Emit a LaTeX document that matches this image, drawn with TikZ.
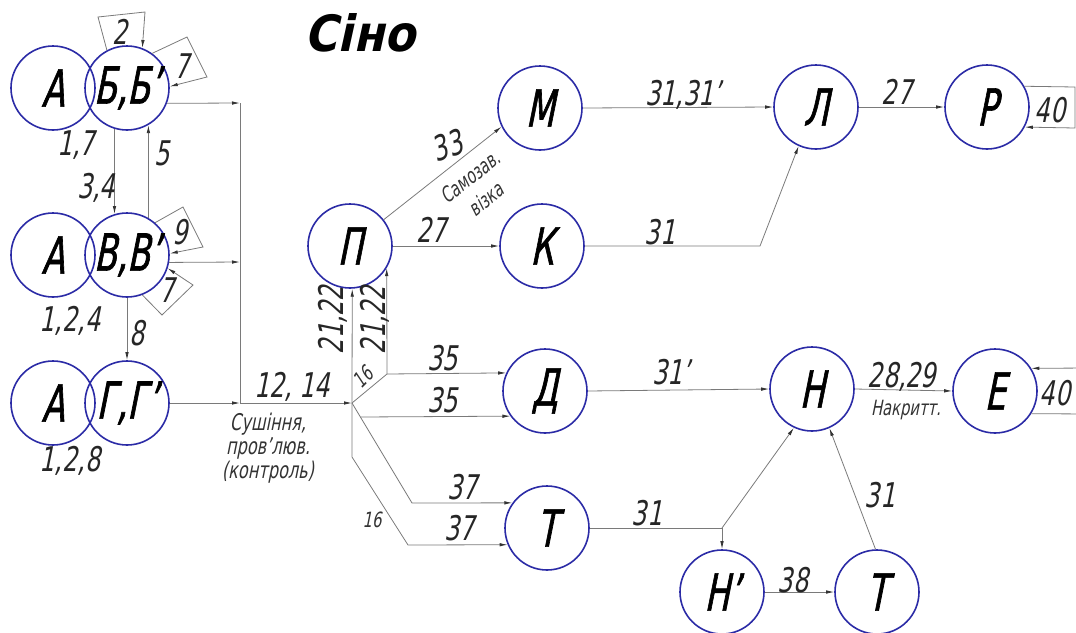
\documentclass[tikz,border=0pt]{standalone}
\usepackage{fontspec}
\usetikzlibrary{arrows.meta}
\newfontfamily\gost{DejaVu Sans Condensed}[FakeSlant=0.2,FakeStretch=0.78]
\newfontfamily\gostnode{DejaVu Sans Condensed}[FakeSlant=0.2,FakeStretch=0.72,FakeBold=1.2]
\newfontfamily\gosttitle{DejaVu Sans Condensed Bold}[FakeSlant=0.22]
\definecolor{circ}{HTML}{2B2BA6}
\definecolor{ln}{HTML}{7A7A7A}
\begin{document}
\begin{tikzpicture}[x=1pt,y=-1pt,
  st/.style={circle,draw=circ,line width=1.6pt,minimum size=84pt,inner sep=0pt,
     font=\gostnode\fontsize{51}{51}\selectfont},
  con/.style={draw=ln,line width=0.8pt},
  arr/.style={con,-{Latex[length=8pt,width=3.5pt,color=black!80]}},
  lab/.style={font=\gost\fontsize{34}{34}\selectfont,text=black!85,inner sep=0pt},
  sm/.style={font=\gost\fontsize{23}{24}\selectfont,text=black!80,align=center,inner sep=0pt},
  tiny/.style={font=\gost\fontsize{21}{22}\selectfont,text=black!80,inner sep=0pt},
  ttl/.style={font=\gosttitle\fontsize{50}{50}\selectfont,inner sep=0pt}]
\useasboundingbox (0,0) rectangle (1076,632);
\clip (0,0) rectangle (1076,632);
% title
\node[ttl] (title) at (360,33) {Сіно};
% nodes
\node[st] (A1) at (53,88) {А};
\node[st] (B1) at (127,88) {Б,Б’};
\node[st] (A2) at (53,255) {А};
\node[st] (V) at (127,255) {В,В’};
\node[st] (A3) at (53,403) {А};
\node[st] (G) at (127,403) {Г,Г’};
\node[st] (P) at (350,246) {П};
\node[st] (M) at (540,108) {М};
\node[st] (K) at (542,246) {К};
\node[st] (L) at (816,107) {Л};
\node[st] (R) at (987,107) {Р};
\node[st] (D) at (545,391) {Д};
\node[st] (H) at (812,389) {Н};
\node[st] (E) at (995,391) {Е};
\node[st] (T1) at (547,528) {Т};
\node[st] (Hp) at (722,592) {Н’};
\node[st] (T2) at (877,592) {Т};
% junction coordinates
\coordinate (c1) at (240,103);
\coordinate (c2) at (240,262);
\coordinate (c3) at (240,403);
\coordinate (J) at (352,403);
\coordinate (j16) at (387,374);
\coordinate (j37a) at (412,503);
\coordinate (j35b) at (360.4,417);
\coordinate (j16b) at (352,457);
\coordinate (j37b) at (408,545);
\coordinate (kl) at (760,246);
\coordinate (jt) at (722,528);
% left group connectors
\draw[arr] (B1.118) -- (98,17) -- (145,12) -- (B1.69);
\draw[arr] (B1.54) -- (187,37) -- (207,77) -- (B1.2);
\draw[arr] (B1.-21) -- (c1);
\draw[arr] (B1.-107) -- (V.107);
\draw[arr] (V.60) -- (B1.-60);
\draw[arr] (V.49) -- (183,207) -- (203,247) -- (V.2);
\draw[arr] (V.-69) -- (162,315) -- (193,285) -- (V.-18);
\draw[arr] (V.-10) -- (c2);
\draw[arr] (V.south) -- (G.north);
\draw[arr] (G.east) -- (c3);
\draw[con] (c1) -- (c3);
\draw[arr] (c3) -- (J);
% P and branches
\draw[arr] (J) -- (P.-87);
\draw[arr] (J) -- (j16) -- (P.-31);
\draw[arr] (j16) -- (D.155);
\draw[arr] (J) -- (j37a) -- (T1.144);
\draw[arr] (j35b) -- (D.-144);
\draw[arr] (J) -- (j16b) -- (j37b) -- (T1.-157);
\draw[arr] (P.38) -- (M.206);
\draw[arr] (P.east) -- (K.west);
\draw[arr] (M.east) -- (L.west);
\draw[arr] (K.east) -- (kl) -- (L.246);
\draw[arr] (L.east) -- (R.west);
\draw[arr] (R.29) -- (1075,87) -- (1075,128) -- (R.-28);
\draw[arr] (D.east) -- (H.west);
\draw[arr] (H.east) -- (E.west);
\draw[arr] (E.-32) -- (1090,414) -- (1090,368) -- (E.32);
\draw[con] (T1.east) -- (jt);
\draw[arr] (jt) -- (Hp.north);
\draw[arr] (jt) -- (H.245);
\draw[arr] (Hp.east) -- (T2.west);
\draw[arr] (T2.92) -- (H.-66);
% labels
\node[lab] (l2) at (120,32) {2};
\node[lab] (l7a) at (182,66) {7};
\node[lab] (l17) at (76,145) {1,7};
\node[lab] (l34) at (96,188) {3,4};
\node[lab] (l5) at (162,153) {5};
\node[lab] (l9) at (180,232) {9};
\node[lab] (l7b) at (167,290) {7};
\node[lab] (l124) at (70,321) {1,2,4};
\node[lab] (l8) at (137,333) {8};
\node[lab] (l128) at (70,461) {1,2,8};
\node[lab] (l1214) at (292,387) {12, 14};
\node[sm] (ls) at (268,448) {Сушіння,\\пров’люв.\\(контроль)};
\node[lab,rotate=90] (l2122a) at (333,320) {21,22};
\node[lab,rotate=90] (l2122b) at (375,320) {21,22};
\node[tiny,rotate=45] (l16a) at (363,377) {16};
\node[tiny] (l16b) at (372,520) {16};
\node[lab] (l27a) at (432,230) {27};
\node[lab,rotate=20] (l33) at (447,146) {33};
\node[sm,font=\gost\fontsize{21}{21}\selectfont,rotate=38] (lsam) at (470,177) {Самозав.};
\node[sm,font=\gost\fontsize{21}{21}\selectfont,rotate=38] (lviz) at (486,199) {візка};
\node[lab] (l3131) at (683,95) {31,31’};
\node[lab] (l31k) at (660,232) {31};
\node[lab] (l27b) at (897,92) {27};
\node[lab] (l40a) at (1050,110) {40};
\node[lab] (l35a) at (443,358) {35};
\node[lab] (l35b) at (443,400) {35};
\node[lab] (l31d) at (671,372) {31’};
\node[lab] (l2829) at (902,377) {28,29};
\node[tiny] (lnak) at (906,410) {Накритт.};
\node[lab] (l40b) at (1055,393) {40};
\node[lab] (l37a) at (463,487) {37};
\node[lab] (l37b) at (460,528) {37};
\node[lab] (l31t) at (647,513) {31};
\node[lab] (l38) at (793,580) {38};
\node[lab] (l31h) at (880,495) {31};
\end{tikzpicture}
\end{document}
